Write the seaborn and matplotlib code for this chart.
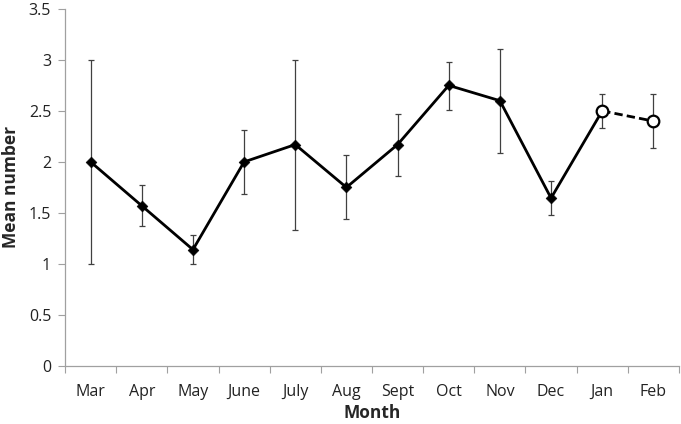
import numpy as np
import pandas as pd
import matplotlib
matplotlib.use("Agg")
import matplotlib.pyplot as plt
import seaborn as sns
from matplotlib.ticker import FixedLocator, MultipleLocator, FuncFormatter

months = ["Mar", "Apr", "May", "June", "July", "Aug", "Sept", "Oct", "Nov", "Dec", "Jan", "Feb"]
means = [2.0, 1.57, 1.14, 2.0, 2.17, 1.75, 2.17, 2.75, 2.6, 1.645, 2.5, 2.4]
err_hi = [3.0, 1.775, 1.283, 2.317, 3.0, 2.063, 2.473, 2.98, 3.108, 1.81, 2.665, 2.665]
err_lo = [1.0, 1.368, 1.0, 1.681, 1.33, 1.437, 1.857, 2.51, 2.092, 1.476, 2.33, 2.134]

sns.set_theme(style="white")
plt.rcParams['font.family'] = ['Open Sans', 'DejaVu Sans']

df = pd.DataFrame({"pos": np.arange(len(months)), "month": months, "mean": means,
                   "lo": err_lo, "hi": err_hi})

fig = plt.figure(figsize=(6.81, 4.24), dpi=100)
ax = fig.add_axes([0.0955, 0.137, 0.9015, 0.842])

# error bars
yerr = np.array([df["mean"] - df["lo"], df["hi"] - df["mean"]])
ax.errorbar(df["pos"], df["mean"], yerr=yerr, fmt="none", ecolor="#404040",
            elinewidth=0.9, capsize=2.5, capthick=0.9, zorder=2)

solid = df.iloc[:11]
dashed = df.iloc[10:]
sns.lineplot(data=solid, x="pos", y="mean", ax=ax, color="black", linewidth=2.0,
             sort=False, zorder=3)
sns.scatterplot(data=df.iloc[:10], x="pos", y="mean", ax=ax, marker="D", s=30,
                color="black", edgecolor="black", zorder=4)
sns.lineplot(data=dashed, x="pos", y="mean", ax=ax, color="black", linewidth=2.0,
             linestyle=(0, (3, 1.5)), sort=False, zorder=3)
sns.scatterplot(data=dashed, x="pos", y="mean", ax=ax, marker="o", s=70,
                facecolor="white", edgecolor="black", linewidth=1.6, zorder=4)

ax.set_xlim(-0.5, len(months) - 0.5)
ax.set_ylim(0, 3.5)
ax.yaxis.set_major_locator(MultipleLocator(0.5))
ax.yaxis.set_major_formatter(FuncFormatter(lambda v, p: f"{v:g}"))
ax.set_xticks(df["pos"])
ax.set_xticklabels(months)
ax.xaxis.set_minor_locator(FixedLocator(np.arange(-0.5, len(months), 1.0)))
ax.tick_params(axis="x", which="major", length=0, pad=13, labelsize=11.5, colors="#222222")
ax.tick_params(axis="x", which="minor", length=5, width=0.8, color="#a0a0a0", direction="out")
ax.tick_params(axis="y", which="major", length=5, width=0.8, color="#a0a0a0",
               direction="out", labelsize=11.5, labelcolor="#222222", pad=5)
ax.tick_params(axis="x", which="major", bottom=False)
ax.tick_params(axis="x", which="minor", bottom=True)
ax.tick_params(axis="y", left=True)

for s in ["top", "right"]:
    ax.spines[s].set_visible(False)
for s in ["left", "bottom"]:
    ax.spines[s].set_color("#a0a0a0")
    ax.spines[s].set_linewidth(0.9)

ax.set_xlabel("Month", fontsize=12.5, fontweight="bold", labelpad=3)
ax.set_ylabel("Mean number", fontsize=12.5, fontweight="bold", labelpad=6)

fig.savefig("out.png", dpi=100)
